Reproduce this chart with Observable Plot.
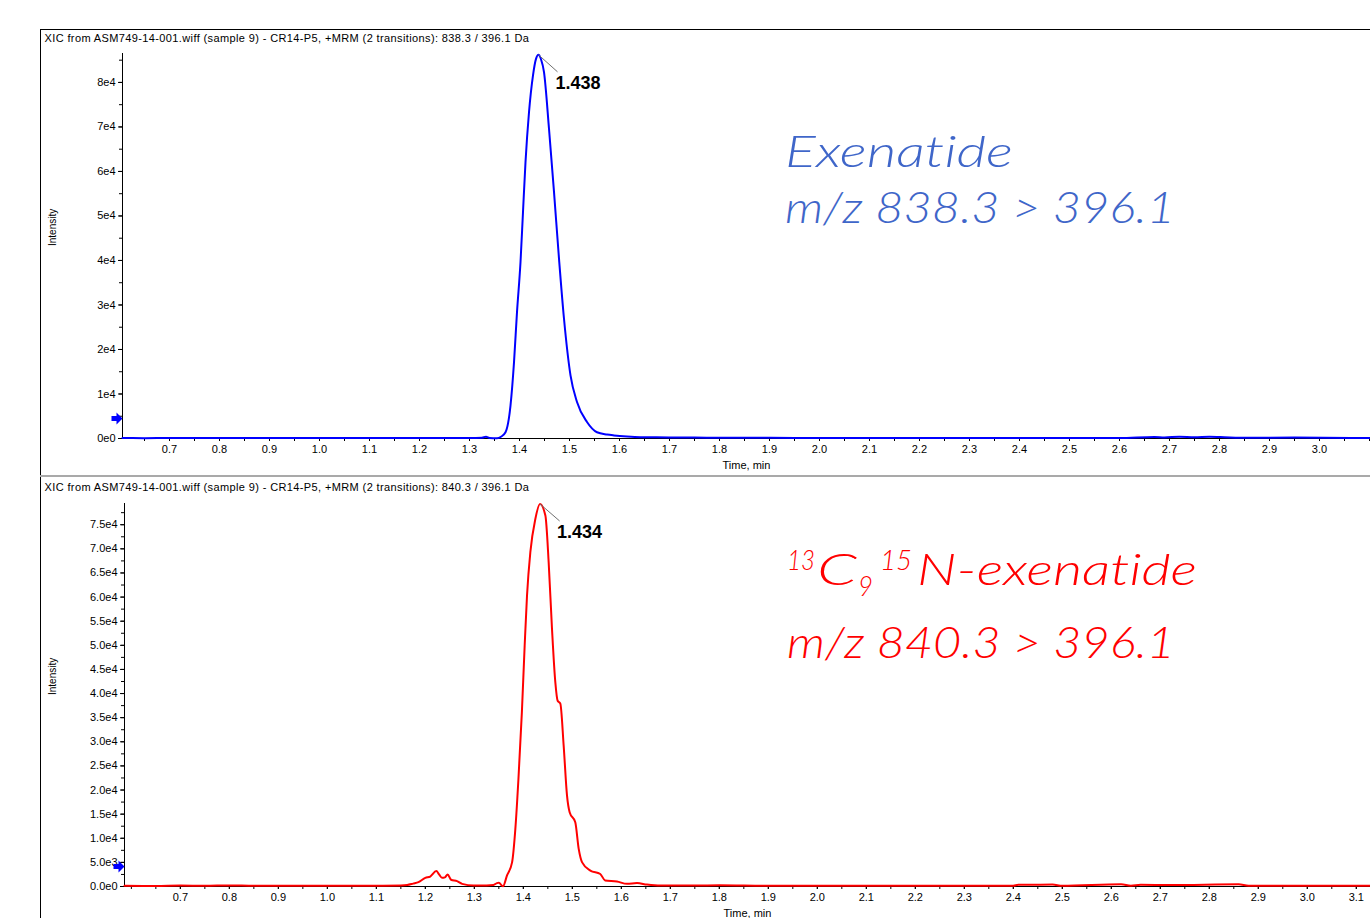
<!DOCTYPE html>
<html><head><meta charset="utf-8">
<script src="https://cdn.jsdelivr.net/npm/d3@7"></script>
<script src="https://cdn.jsdelivr.net/npm/@observablehq/plot@0.6"></script>
<style>
body{margin:0;background:#fff;}
#wrap{position:relative;width:1370px;height:918px;overflow:hidden;background:#fff;}
#p1{position:absolute;left:40px;top:29px;}
#p2{position:absolute;left:40px;top:477px;}
.ln{position:absolute;}
</style></head><body>
<div id="wrap">
<div id="p1"></div><div id="p2"></div>
<div class="ln" style="left:40px;top:29px;width:1330px;height:1px;background:#000"></div>
<div class="ln" style="left:40px;top:29px;width:1px;height:889px;background:#000"></div>
<div class="ln" style="left:40px;top:475px;width:1330px;height:2px;background:#a9a9a9"></div>
</div>
<script>
// ---- data ----
const topHeader = "XIC from ASM749-14-001.wiff (sample 9) - CR14-P5, +MRM (2 transitions): 838.3 / 396.1 Da";
const botHeader = "XIC from ASM749-14-001.wiff (sample 9) - CR14-P5, +MRM (2 transitions): 840.3 / 396.1 Da";
const blueTitle = "Exenatide";
const blueTransition = "m/z 838.3 > 396.1";
const redTitleParts = ["13", "C", "9", "15", "N-exenatide"];
const redTransition = "m/z 840.3 > 396.1";
const xLabel = "Time, min";
const yLabel = "Intensity";

const topTime = [
0.606, 0.65, 0.70, 0.75, 0.80, 0.85, 0.90, 0.95, 1.00, 1.05,
1.10, 1.15, 1.20, 1.25, 1.30, 1.325, 1.333, 1.340, 1.355, 1.363,
1.372, 1.382, 1.389, 1.395, 1.402, 1.407, 1.412, 1.419, 1.427, 1.433,
1.438, 1.443, 1.449, 1.459, 1.469, 1.479, 1.489, 1.502, 1.515, 1.535,
1.555, 1.575, 1.589, 1.615, 1.642, 1.70, 1.75, 1.80, 1.90, 2.00,
2.20, 2.40, 2.60, 2.67, 2.69, 2.72, 2.75, 2.78, 2.81, 2.84,
2.95, 3.102];
const topIntensity = [
100, 80, 120, 90, 110, 100, 120, 90, 110, 100,
100, 90, 110, 100, 100, 150, 400, 120, 60, 400,
1400, 7400, 17100, 28400, 39600, 50900, 62100, 73300, 81600, 85300,
86200, 85200, 82300, 69600, 55400, 40400, 26900, 14200, 8200, 3700,
1400, 900, 700, 450, 300, 250, 200, 180, 150, 120,
100, 100, 100, 350, 250, 380, 300, 380, 280, 150,
200, 100];

const botTime = [
0.586, 0.65, 0.70, 0.75, 0.80, 0.85, 0.90, 0.95, 1.00, 1.05,
1.10, 1.15, 1.163, 1.175, 1.186, 1.200, 1.210, 1.2224, 1.228, 1.234,
1.240, 1.2455, 1.2525, 1.2647, 1.275, 1.2986, 1.325, 1.339, 1.346, 1.350,
1.3585, 1.3667, 1.377, 1.3837, 1.390, 1.397, 1.4027, 1.4075, 1.4143, 1.4245,
1.434, 1.445, 1.4517, 1.4585, 1.4653, 1.470, 1.4755, 1.4823, 1.4891, 1.4945,
1.506, 1.513, 1.520, 1.5367, 1.557, 1.567, 1.591, 1.6116, 1.632, 1.6524,
1.68, 1.75, 1.80, 1.90, 2.00, 2.20, 2.40, 2.41, 2.43, 2.48,
2.50, 2.62, 2.64, 2.66, 2.72, 2.86, 2.88, 3.00, 3.129];
const botIntensity = [
150, 120, 200, 150, 220, 150, 180, 150, 150, 130,
160, 200, 300, 600, 900, 1800, 2070, 3200, 2500, 1800,
1900, 2500, 1400, 1100, 550, 200, 200, 300, 700, 760,
60, 2300, 5000, 11950, 22300, 36100, 49900, 60300, 69300, 76200,
79300, 76900, 67200, 53400, 42300, 38500, 37900, 29200, 18900, 15400,
13300, 7800, 5000, 3300, 2600, 1250, 1040, 550, 700, 400,
200, 200, 250, 150, 180, 150, 150, 350, 350, 400,
150, 450, 150, 350, 300, 450, 150, 150, 150];

const topXTicks = [0.7,0.8,0.9,1.0,1.1,1.2,1.3,1.4,1.5,1.6,1.7,1.8,1.9,2.0,2.1,2.2,2.3,2.4,2.5,2.6,2.7,2.8,2.9,3.0];
const botXTicks = [0.7,0.8,0.9,1.0,1.1,1.2,1.3,1.4,1.5,1.6,1.7,1.8,1.9,2.0,2.1,2.2,2.3,2.4,2.5,2.6,2.7,2.8,2.9,3.0,3.1];
const topYTicks = [0,10000,20000,30000,40000,50000,60000,70000,80000];
const botYTicks = [0,5000,10000,15000,20000,25000,30000,35000,40000,45000,50000,55000,60000,65000,70000,75000];
const topThreshold = 4500;
const botThreshold = 4140;

// ---- drawing ----
const FONT = '"Liberation Sans", Arial, sans-serif';
const arrowSymbol = {draw(ctx){
  ctx.moveTo(0,0); ctx.lineTo(-6,-6); ctx.lineTo(-6,-2.5); ctx.lineTo(-11,-2.5);
  ctx.lineTo(-11,2.5); ctx.lineTo(-6,2.5); ctx.lineTo(-6,6); ctx.closePath();
}};

function panel(o){
  const data = o.time.map((t,i)=>({t, v:o.intensity[i]}));
  const peak = d3.greatest(data, d=>d.v);
  const xMinor = d3.range(Math.ceil(o.xDomain[0]*20), Math.floor(o.xDomain[1]*20)+1).map(k=>k/20);
  const yMinor = d3.range(0, o.yDomain[1], o.yMinorStep);
  return Plot.plot({
    width:1330, height:o.height, marginLeft:o.marginLeft, marginRight:0,
    marginTop:o.marginTop, marginBottom:o.marginBottom,
    style:{fontFamily:FONT, fontSize:"11px", background:"transparent", overflow:"visible", color:"#000"},
    x:{domain:o.xDomain}, y:{domain:o.yDomain},
    marks:[
      Plot.axisX({ticks:xMinor, tickFormat:()=>"", tickSize:3, label:null}),
      Plot.axisX({ticks:o.xTicks, tickFormat:d=>d.toFixed(1), tickSize:3, tickPadding:4, label:null}),
      Plot.axisY({ticks:yMinor, tickFormat:()=>"", tickSize:3, label:null}),
      Plot.axisY({ticks:o.yTicks, tickFormat:o.yFormat, tickSize:4, tickPadding:3, label:null}),
      Plot.ruleX([o.xDomain[0]], {stroke:"#000"}),
      Plot.ruleY([0], {stroke:"#000"}),
      Plot.line(data, {x:"t", y:"v", stroke:o.color, strokeWidth:2, curve:"monotone-x"}),
      Plot.link([peak], {x1:"t", y1:"v", x2:d=>d.t+o.linkDx, y2:d=>d.v-o.linkDy, stroke:"#707070", strokeWidth:1}),
      Plot.text([peak], {x:"t", y:"v", text:d=>d.t.toFixed(3), dx:17, dy:28, textAnchor:"start", fontSize:18, fontWeight:"bold", fill:"#000"}),
      Plot.dot([o.threshold], {y:d=>d, frameAnchor:"left", symbol:arrowSymbol, fill:"#0000ff", stroke:"none"}),
      Plot.text([yLabel], {frameAnchor:"left", rotate:-90, dx:o.yLabelDx, fontSize:10, fill:"#000"}),
      Plot.text([xLabel], {frameAnchor:"bottom", dy:30, fontSize:11, fill:"#000"}),
      Plot.text([o.header], {frameAnchor:"top-left", dx:o.headerDx, dy:o.headerDy, textAnchor:"start", fontSize:11, fill:"#000"})
    ]
  });
}

const svg1 = panel({
  time:topTime, intensity:topIntensity, color:"#0000ff",
  xDomain:[0.606,3.102], yDomain:[0,86500], xTicks:topXTicks, yTicks:topYTicks, yMinorStep:5000,
  yFormat:d=>d===0?"0e0":`${d/1e4}e4`,
  height:447, marginLeft:82, marginTop:24, marginBottom:38,
  linkDx:0.038, linkDy:3820, threshold:topThreshold, yLabelDx:-70,
  header:topHeader, headerDx:-78, headerDy:-19
});
const svg2 = panel({
  time:botTime, intensity:botIntensity, color:"#ff0000",
  xDomain:[0.586,3.129], yDomain:[0,79400], xTicks:botXTicks, yTicks:botYTicks, yMinorStep:2500,
  yFormat:d=>d===0?"0.0e0":(d<1e4?`${(d/1e3).toFixed(1)}e3`:`${(d/1e4).toFixed(1)}e4`),
  height:441, marginLeft:84, marginTop:26, marginBottom:32,
  linkDx:0.04, linkDy:3520, threshold:botThreshold, yLabelDx:-72,
  header:botHeader, headerDx:-80, headerDy:-20
});
document.getElementById("p1").appendChild(svg1);
document.getElementById("p2").appendChild(svg2);
[[svg1, topHeader],[svg2, botHeader]].forEach(([s,h])=>{
  s.querySelectorAll("text").forEach(t=>{ if(t.textContent===h) t.setAttribute("letter-spacing","0.38"); });
});

// annotations
const AFONT = 'Lato, "Open Sans", "DejaVu Sans", sans-serif';
function annoGroup(svg, color){
  return d3.select(svg).append("g")
    .attr("fill",color).attr("font-style","italic").attr("font-weight",300)
    .attr("font-family",AFONT).attr("font-size",44).attr("text-anchor","start")
    .attr("style","font-variant-ligatures:none");
}
function put(g, x, y, str, len, size){
  const t = g.append("text").attr("x",x).attr("y",y).text(str);
  if (size) t.attr("font-size", size);
  if (len) t.attr("textLength", len).attr("lengthAdjust","spacingAndGlyphs");
  return t;
}
const g1 = annoGroup(svg1, "#3f66c9");
put(g1, 745, 138, blueTitle, 228);
put(g1, 745, 194, blueTransition, 390);

const g2 = annoGroup(svg2, "#ff0000");
put(g2, 747, 93, redTitleParts[0], 28, 28);
put(g2, 777, 108, redTitleParts[1], 40);
put(g2, 818, 119, redTitleParts[2], 15, 28);
put(g2, 840, 93, redTitleParts[3], 32, 28);
put(g2, 877, 108, redTitleParts[4], 280);
put(g2, 747, 181, redTransition, 388);
</script>
</body></html>
